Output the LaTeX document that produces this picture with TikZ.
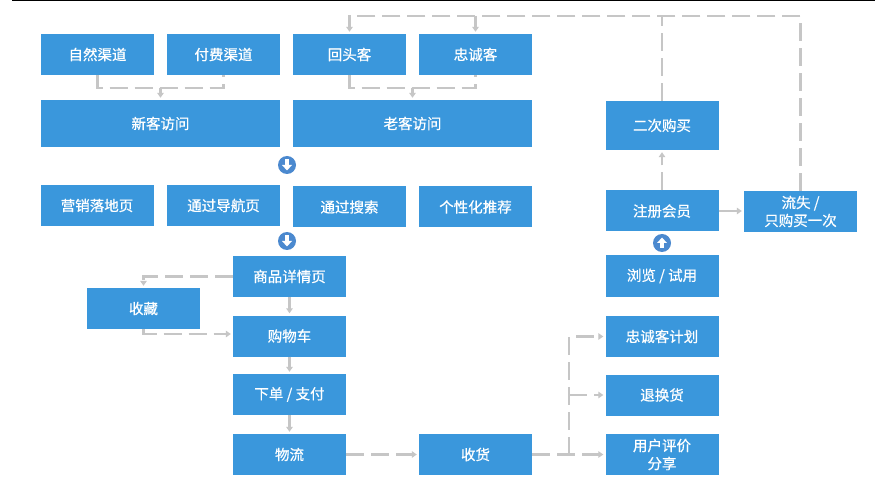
\documentclass[tikz,border=0pt]{standalone}
\usepackage{fontspec}
\setmainfont{Noto Sans CJK SC}
\newfontfamily\boxfont{Noto Sans CJK SC}[FakeBold=0.6]
\usetikzlibrary{arrows.meta}
\definecolor{boxblue}{HTML}{3A97DC}
\definecolor{circblue}{HTML}{4B89CF}
\definecolor{lgray}{HTML}{C6C6C6}
\tikzset{
  box/.style={fill=boxblue, text=white, inner sep=0pt, minimum width=113pt, minimum height=41pt,
    font=\boxfont\fontsize{14.5}{18}\selectfont, align=center},
  widebox/.style={box, minimum width=239pt, minimum height=47pt},
  tipA/.tip={Triangle[width=6.5pt,length=5pt]},
  dl/.style={draw=lgray, line width=2.2pt, dash pattern=on 18pt off 7pt},
  sl/.style={draw=lgray, line width=2.2pt},
  ar/.style={-tipA, shorten >=2pt},
  downarr/.pic={\fill[circblue] (0,0) circle (9pt);
    \fill[white] (-2.2,-5.5) rectangle (2.2,0.5);
    \fill[white] (-5,0) -- (5,0) -- (0,5.5) -- cycle;},
}
\begin{document}
\begin{tikzpicture}[x=1pt,y=-1pt]
\useasboundingbox (0,0) rectangle (875,486);
\fill[white] (0,0) rectangle (875,486);
\draw[black, line width=1.5pt] (12,0.75) -- (875,0.75);

% row 1
\node[box] (zr) at (97.5,54.5) {自然渠道};
\node[box] (ff) at (223.5,54.5) {付费渠道};
\node[box] (ht) at (349.5,54.5) {回头客};
\node[box] (zc) at (475.5,54.5) {忠诚客};
% row 2
\node[widebox] (xk) at (160.5,123.5) {新客访问};
\node[widebox] (lk) at (412.5,123.5) {老客访问};
% row 3
\node[box] (yx) at (97,205.5) {营销落地页};
\node[box] (dh) at (223.5,205.5) {通过导航页};
\node[box] (ss) at (349.5,207) {通过搜索};
\node[box] (gx) at (475.5,207) {个性化推荐};
% flow
\node[box] (sp) at (289.5,276.5) {商品详情页};
\node[box] (sc) at (143.5,308.5) {收藏};
\node[box] (gwc) at (289.5,336) {购物车};
\node[box] (xd) at (289.5,394.5) {下单 / 支付};
\node[box] (wl) at (289.5,454.5) {物流};
\node[box] (sh) at (475.5,454.5) {收货};
% right column
\node[box] (pj) at (662,454.5) {用户评价\\分享};
\node[box] (th) at (662,395) {退换货};
\node[box] (zck) at (662,336.5) {忠诚客计划};
\node[box] (ll) at (662,276) {浏览 / 试用};
\node[box] (zh) at (662,211) {注册会员};
\node[box] (ls) at (800.5,211.5) {流失 /\\只购买一次};
\node[box, minimum height=49pt] (ec) at (662,125.5) {二次购买};

% arrow circles
\pic at (287,165) {downarr};
\pic at (287,241) {downarr};
\pic[yscale=-1] at (662,243) {downarr};

% merging connectors
\coordinate (j1) at (160.5,88);
\coordinate (j2) at (412.5,88);
\draw[dl] (zr.south) |- (j1) -| (ff.south);
\draw[dl,ar] (j1) -- (xk.north);
\draw[dl] (ht.south) |- (j2) -| (zc.south);
\draw[dl,ar] (j2) -- (lk.north);

% top loop
\coordinate (tA) at (349.5,16);
\draw[dl,ar] (ls.north) |- (tA) -- (ht.north);
\draw[dl] (ec.north) -- (ec.north |- tA);
\draw[dl,ar] (zc.north |- tA) -- (zc.north);

% right side
\draw[dl,ar] (zh.north) -- (ec.south);
\draw[sl,ar] (zh.east) -- (zh.east -| ls.west);

% product flow
\draw[dl,ar] (sp.west) -| (sc.north);
\draw[dl,ar] (sc.south) |- ([yshift=2pt]gwc.west);
\draw[sl,ar] (sp.south) -- (gwc.north);
\draw[sl,ar] (gwc.south) -- (xd.north);
\draw[sl,ar] (xd.south) -- (wl.north);
\draw[dl,ar] (wl.east) -- (sh.west);

% after delivery
\coordinate (bx) at (569,454.5);
\draw[dl,ar] (sh.east) -- (pj.west);
\draw[dl,ar] (bx) |- (zck.west);
\draw[dl,ar] (bx |- th.west) -- (th.west);
\end{tikzpicture}
\end{document}
